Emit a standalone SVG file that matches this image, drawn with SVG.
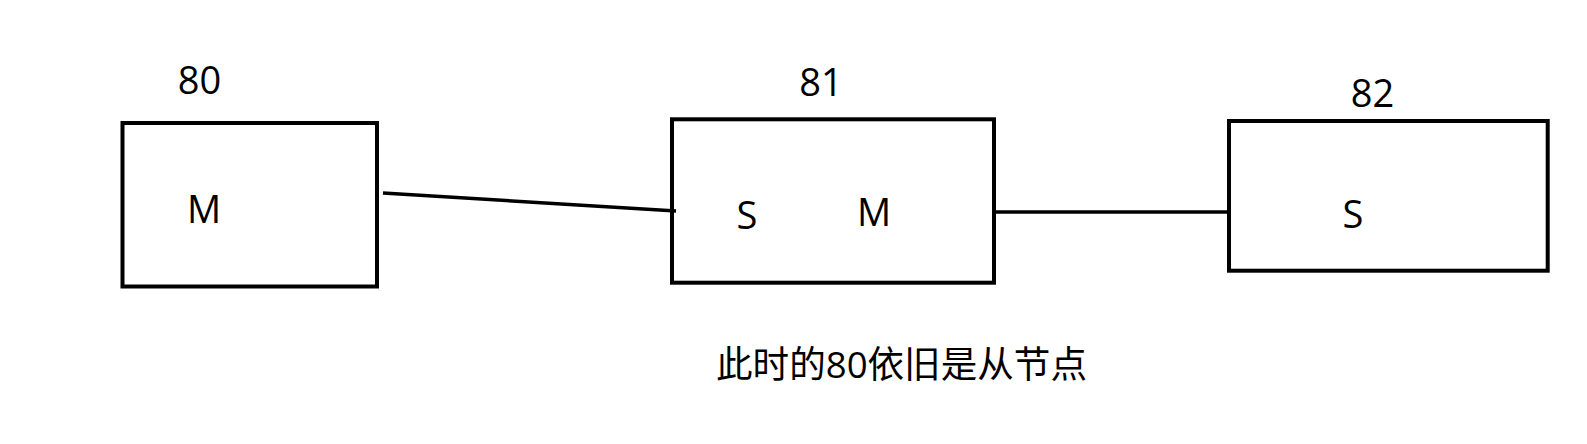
<svg xmlns="http://www.w3.org/2000/svg" width="1587" height="444" viewBox="0 0 1587 444">
<style>
.box{fill:none;stroke:#000;stroke-width:4}
.conn{stroke:#000;stroke-width:3.5;fill:none}
.t{font-family:"Open Sans","Noto Sans CJK SC",sans-serif;font-size:38px;fill:#000;text-anchor:middle}
.c{font-family:"Open Sans","Noto Sans CJK SC",sans-serif;font-size:37px;fill:#000}
</style>
<rect width="1587" height="444" fill="#fff"/>
<g id="connectors">
<line class="conn" x1="383" y1="193" x2="676" y2="211"/>
<line class="conn" x1="993" y1="212" x2="1228" y2="212"/>
</g>
<g id="node80">
<rect class="box" x="122.5" y="123" width="254.5" height="163.5"/>
<text class="t" x="199.5" y="94">80</text>
<text class="t" x="204" y="223">M</text>
</g>
<g id="node81">
<rect class="box" x="672" y="119.3" width="322" height="163.4"/>
<text class="t" x="821" y="96">81</text>
<text class="t" x="747" y="229">S</text>
<text class="t" x="874" y="226">M</text>
</g>
<g id="node82">
<rect class="box" x="1229" y="121" width="318.7" height="149.7"/>
<text class="t" x="1372.5" y="107">82</text>
<text class="t" x="1353" y="228">S</text>
</g>
<g id="note">
<text class="c" x="716" y="378" textLength="371" lengthAdjust="spacingAndGlyphs">此时的80依旧是从节点</text>
</g>
</svg>
